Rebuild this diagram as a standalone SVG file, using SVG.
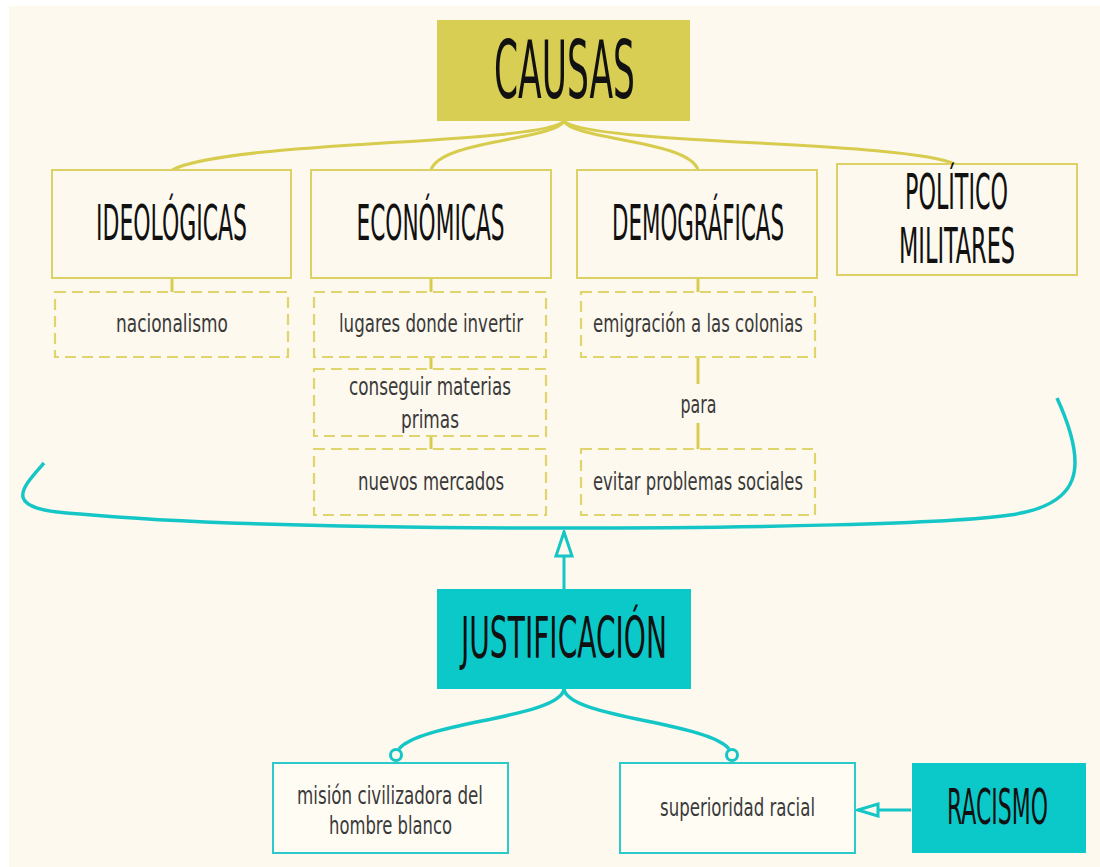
<svg xmlns="http://www.w3.org/2000/svg" width="1100" height="867" viewBox="0 0 1100 867">
  <style>
    .bg { fill: #fdf9ef; }
    .head { font-family: "Liberation Sans Narrow", "DejaVu Sans Condensed", "Liberation Sans", sans-serif; fill: #111111; text-anchor: middle; }
    .small { font-family: "Liberation Sans Narrow", "DejaVu Sans Condensed", "Liberation Sans", sans-serif; font-size: 25px; fill: #3a3a3a; text-anchor: middle; }
    .ybox { fill: #fdf9ef; stroke: #ddd166; stroke-width: 2; }
    .ydash { fill: #fdf9ef; stroke: #e0d46c; stroke-width: 2.2; stroke-dasharray: 11 6; }
    .yfill { fill: #d9ce54; }
    .tbox { fill: #fffcf4; stroke: #2ccaca; stroke-width: 2; }
    .tfill { fill: #0bc9c9; }
    .yline { fill: none; stroke: #d8cc4e; stroke-width: 3; }
    .tline { fill: none; stroke: #14c6c6; stroke-width: 3.5; }
    .tline2 { fill: none; stroke: #14c6c6; stroke-width: 3; }
    .dot { fill: #fdf9ef; stroke: #14c6c6; stroke-width: 3; }
  </style>
  <defs>
    <marker id="hollowUp" viewBox="0 0 28 20" refX="26" refY="10" markerWidth="28" markerHeight="20" orient="auto" markerUnits="userSpaceOnUse">
      <path d="M2,2 L26,10 L2,18 Z" fill="#fdf9ef" stroke="#14c6c6" stroke-width="3"/>
    </marker>
    <marker id="hollowLeft" viewBox="0 0 24 16" refX="22" refY="8" markerWidth="24" markerHeight="16" orient="auto" markerUnits="userSpaceOnUse">
      <path d="M2,2 L22,8 L2,14 Z" fill="#fdf9ef" stroke="#14c6c6" stroke-width="3"/>
    </marker>
  </defs>

  <rect x="0" y="0" width="1100" height="867" fill="#ffffff"/>
  <rect class="bg" x="9" y="6" width="1091" height="861"/>

  <g id="connectors">
    <path class="yline" d="M564,121 C540,145 230,140 172,170"/>
    <path class="yline" d="M564,121 C555,140 440,140 431,170"/>
    <path class="yline" d="M564,121 C573,140 689,140 698,170"/>
    <path class="yline" d="M564,121 C590,145 900,140 955,164"/>
    <line class="yline" x1="172" y1="278" x2="172" y2="292"/>
    <line class="yline" x1="431" y1="278" x2="431" y2="292"/>
    <line class="yline" x1="698" y1="278" x2="698" y2="292"/>
    <line class="yline" x1="431" y1="357" x2="431" y2="369"/>
    <line class="yline" x1="431" y1="436" x2="431" y2="449"/>
    <line class="yline" x1="698" y1="357" x2="698" y2="384"/>
    <line class="yline" x1="698" y1="423" x2="698" y2="449"/>
    <path class="tline" d="M44,463 C20,490 0,510 80,514 C200,525 400,528 565,528 C750,528 950,524 1010,515 C1080,505 1090,470 1057,398"/>
    <line class="tline2" x1="564" y1="589" x2="564" y2="532" marker-end="url(#hollowUp)"/>
    <path class="tline" d="M564,689 C560,718 420,722 399,749"/>
    <path class="tline" d="M564,689 C568,718 708,722 729,749"/>
    <circle class="dot" cx="396" cy="755" r="5.5"/>
    <circle class="dot" cx="732" cy="755" r="5.5"/>
    <line class="tline2" x1="911" y1="810" x2="858" y2="810" marker-end="url(#hollowLeft)"/>
  </g>

  <g id="causas">
    <rect class="yfill" x="437" y="20" width="253" height="101"/>
    <text class="head" transform="translate(564.5,98) scale(1,1.7)" x="0" y="0" font-size="47.6" textLength="141" lengthAdjust="spacingAndGlyphs">CAUSAS</text>
  </g>

  <g id="ideologicas">
    <rect class="ybox" x="52" y="170" width="239" height="108"/>
    <text class="head" transform="translate(171.5,240) scale(1,1.7)" x="0" y="0" font-size="28.8" textLength="151" lengthAdjust="spacingAndGlyphs">IDEOLÓGICAS</text>
  </g>
  <g id="economicas">
    <rect class="ybox" x="311" y="170" width="240" height="108"/>
    <text class="head" transform="translate(430.5,240) scale(1,1.7)" x="0" y="0" font-size="28.8" textLength="148" lengthAdjust="spacingAndGlyphs">ECONÓMICAS</text>
  </g>
  <g id="demograficas">
    <rect class="ybox" x="577" y="170" width="240" height="108"/>
    <text class="head" transform="translate(698,240) scale(1,1.7)" x="0" y="0" font-size="28.8" textLength="172" lengthAdjust="spacingAndGlyphs">DEMOGRÁFICAS</text>
  </g>
  <g id="politico-militares">
    <rect class="ybox" x="837" y="164" width="240" height="111"/>
    <text class="head" transform="translate(956.5,209) scale(1,1.7)" x="0" y="0" font-size="29.4" textLength="103" lengthAdjust="spacingAndGlyphs">POLÍTICO</text>
    <text class="head" transform="translate(957,263) scale(1,1.7)" x="0" y="0" font-size="29.4" textLength="116" lengthAdjust="spacingAndGlyphs">MILITARES</text>
  </g>

  <g id="nacionalismo">
    <rect class="ydash" x="55" y="292" width="233" height="65"/>
    <text class="small" x="172" y="332" textLength="112" lengthAdjust="spacingAndGlyphs">nacionalismo</text>
  </g>
  <g id="lugares">
    <rect class="ydash" x="314" y="292" width="232" height="65"/>
    <text class="small" x="431" y="332" textLength="184" lengthAdjust="spacingAndGlyphs">lugares donde invertir</text>
  </g>
  <g id="materias">
    <rect class="ydash" x="314" y="369" width="232" height="67"/>
    <text class="small" x="430" y="395" textLength="162" lengthAdjust="spacingAndGlyphs">conseguir materias</text>
    <text class="small" x="430" y="428" textLength="58" lengthAdjust="spacingAndGlyphs">primas</text>
  </g>
  <g id="mercados">
    <rect class="ydash" x="314" y="449" width="232" height="66"/>
    <text class="small" x="431" y="490" textLength="146" lengthAdjust="spacingAndGlyphs">nuevos mercados</text>
  </g>
  <g id="emigracion">
    <rect class="ydash" x="581" y="292" width="234" height="65"/>
    <text class="small" x="698" y="332" textLength="210" lengthAdjust="spacingAndGlyphs">emigración a las colonias</text>
  </g>
  <g id="para">
    <text class="small" x="698.5" y="413" textLength="36" lengthAdjust="spacingAndGlyphs">para</text>
  </g>
  <g id="evitar">
    <rect class="ydash" x="581" y="449" width="234" height="66"/>
    <text class="small" x="698" y="490" textLength="210" lengthAdjust="spacingAndGlyphs">evitar problemas sociales</text>
  </g>

  <g id="justificacion">
    <rect class="tfill" x="437" y="589" width="254" height="100"/>
    <text class="head" transform="translate(564,658) scale(1,1.7)" x="0" y="0" font-size="33" textLength="206" lengthAdjust="spacingAndGlyphs">JUSTIFICACIÓN</text>
  </g>
  <g id="mision">
    <rect class="tbox" x="273" y="763" width="235" height="90"/>
    <text class="small" x="390" y="804" textLength="186" lengthAdjust="spacingAndGlyphs">misión civilizadora del</text>
    <text class="small" x="390.5" y="834" textLength="123" lengthAdjust="spacingAndGlyphs">hombre blanco</text>
  </g>
  <g id="superioridad">
    <rect class="tbox" x="620" y="763" width="235" height="90"/>
    <text class="small" x="737.5" y="816" textLength="155" lengthAdjust="spacingAndGlyphs">superioridad racial</text>
  </g>
  <g id="racismo">
    <rect class="tfill" x="912" y="763" width="174" height="90"/>
    <text class="head" transform="translate(997.5,824) scale(1,1.7)" x="0" y="0" font-size="28.8" textLength="101" lengthAdjust="spacingAndGlyphs">RACISMO</text>
  </g>
</svg>
